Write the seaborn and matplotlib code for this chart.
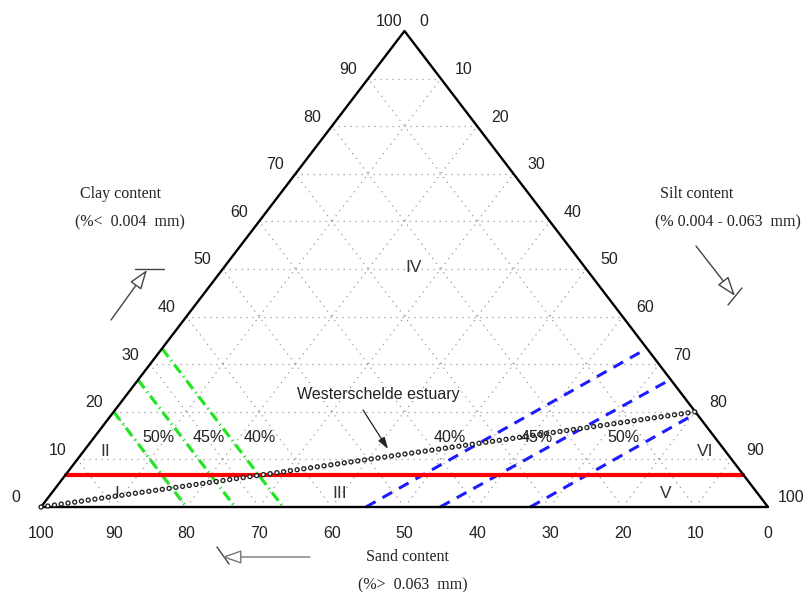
import numpy as np
import pandas as pd
import matplotlib
matplotlib.use("Agg")
import matplotlib.pyplot as plt
import seaborn as sns

# ---------------- data ----------------
tick_values = [0, 10, 20, 30, 40, 50, 60, 70, 80, 90, 100]
grid_levels = [10, 20, 30, 40, 50, 60, 70, 80, 90]
red_boundary_clay = 6.8                      # horizontal boundary (clay %)
green_sand_levels = [80.0, 73.3, 66.7]       # constant-sand lines
green_labels = ["50%", "45%", "40%"]
blue_sand_at_base = [55.3, 45.1, 32.7]       # sand % where blue line meets the base
blue_clay_at_right = [33.3, 26.8, 19.7]      # clay % where blue line meets the silt edge
blue_labels = ["40%", "45%", "50%"]
estuary_clay = [0.0, 20.0]                   # Westerschelde estuary line
estuary_silt = [0.0, 80.0]
zone_labels = ["I", "II", "III", "IV", "V", "VI"]

# ---------------- helpers ----------------
X0, XW, Y0, YH = 41.0, 727.0, 507.0, 476.0   # triangle placement in pixels


def tern(clay, silt):
    clay = np.asarray(clay, float)
    silt = np.asarray(silt, float)
    return silt + clay / 2.0, clay


def px(x, y):
    return (x - X0) / XW * 100.0, (Y0 - y) / YH * 100.0


sns.set_style("white")
plt.rcParams["font.family"] = ["Liberation Sans", "DejaVu Sans"]

fig = plt.figure(figsize=(8.08, 5.92), dpi=100)
ax = fig.add_axes([0, 0, 1, 1])
ax.set_xlim(-X0 / XW * 100, (808 - X0) / XW * 100)
ax.set_ylim((Y0 - 592) / YH * 100, Y0 / YH * 100)
ax.axis("off")

grid_kw = dict(color="#9a9a9a", lw=0.9, linestyle=(0, (1, 3.8)), zorder=1)
for v in grid_levels:
    # constant clay
    x, y = tern([v, v], [0, 100 - v])
    ax.plot(x, y, **grid_kw)
    # constant silt
    x, y = tern([0, 100 - v], [v, v])
    ax.plot(x, y, **grid_kw)
    # constant sand  (clay + silt = 100 - v)
    x, y = tern([0, 100 - v], [100 - v, 0])
    ax.plot(x, y, **grid_kw)

# triangle outline
tx, ty = tern([0, 0, 100, 0], [0, 100, 0, 0])
sns.lineplot(x=tx, y=ty, sort=False, estimator=None, color="black", lw=1.7, ax=ax, zorder=5)

# red boundary
rx, ry = tern([red_boundary_clay, red_boundary_clay], [0, 100 - red_boundary_clay])
sns.lineplot(x=rx, y=ry, sort=False, estimator=None, color="#ff0000", lw=3.0, ax=ax, zorder=4)

# green constant-sand lines
for s in green_sand_levels:
    gx, gy = tern([100 - s, 0], [0, 100 - s])
    ax.plot(gx, gy, color="#22e622", lw=2.3, linestyle=(0, (3.3, 1.3, 0.4, 1.3)), zorder=3)

# blue lines
for sb, cr in zip(blue_sand_at_base, blue_clay_at_right):
    bx, by = tern([0, cr], [100 - sb, 100 - cr])
    ax.plot(bx, by, color="#1c1cff", lw=2.2, linestyle=(0, (3.6, 2.6)), zorder=3)

# estuary line: open circles
ex, ey = tern(estuary_clay, estuary_silt)
spacing = 4.9
ax.plot(ex, ey, color="#222222", lw=3.9, linestyle=(0, (0.001, spacing / 3.9)),
        dash_capstyle="round", zorder=6)
ax.plot(ex, ey, color="white", lw=2.0, linestyle=(0, (0.001, spacing / 2.0)),
        dash_capstyle="round", zorder=7)

# tick labels
tcol = "#222222"
fs = 11.5
for v in tick_values:
    # clay (left side)
    x, y = tern(v, 0)
    dx, dy = -20, 9
    if v == 0:
        dx = -25
    if v == 100:
        dx, dy = -15, 10
    ax.annotate(str(v), (x, y), xytext=(dx * 0.72, dy * 0.72), textcoords="offset points",
                ha="center", va="center", fontsize=fs, color=tcol)
    # silt (right side)
    x, y = tern(100 - v, v)
    dx, dy = 23, 9
    if v == 0:
        dx, dy = 19.5, 10
    ax.annotate(str(v), (x, y), xytext=(dx * 0.72, dy * 0.72), textcoords="offset points",
                ha="center", va="center", fontsize=fs, color=tcol)
    # sand (base)
    x, y = tern(0, 100 - v)
    ax.annotate(str(v), (x, y), xytext=(0, -26 * 0.72), textcoords="offset points",
                ha="center", va="center", fontsize=fs, color=tcol)

# percentage labels
for lab, p in zip(green_labels, [(158, 437), (209, 437), (260, 437)]):
    ax.text(*px(*p), lab, ha="center", va="center", fontsize=fs, color=tcol, zorder=8)
for lab, p in zip(blue_labels, [(450, 437), (537, 437), (623, 437)]):
    ax.text(*px(*p), lab, ha="center", va="center", fontsize=fs, color=tcol, zorder=8)

# zone labels
zone_pos = [(117, 493), (105, 452), (340, 493), (414, 268), (666, 493), (705, 452)]
for lab, p in zip(zone_labels, zone_pos):
    ax.text(*px(*p), lab, ha="center", va="center", fontsize=12.5, color="#333333", zorder=8)

# axis titles (serif)
serif = ["Liberation Serif", "DejaVu Serif"]
titles = [("Clay content", (120, 194)), ("(%<  0.004  mm)", (130, 222)),
          ("Silt content", (697, 194)), ("(% 0.004 - 0.063  mm)", (728, 222)),
          ("Sand content", (407, 557)), ("(%>  0.063  mm)", (413, 585))]
for t, p in titles:
    ax.text(*px(*p), t, ha="center", va="center", fontsize=fs, color=tcol, family=serif)

# estuary annotation
ax.text(*px(378, 394), "Westerschelde estuary", ha="center", va="center", fontsize=fs,
        color=tcol, zorder=8)
ax.annotate("", xy=px(388, 449), xytext=px(363, 410),
            arrowprops=dict(arrowstyle="-|>,head_length=0.7,head_width=0.22",
                            color="#222222", lw=0.9, shrinkA=0, shrinkB=0))

# direction arrows
arrow_kw = dict(arrowstyle="-|>,head_length=1.2,head_width=0.42", fc="white",
                ec="#444444", lw=1.0, shrinkA=0, shrinkB=0)
ax.annotate("", xy=px(147, 270), xytext=px(111, 320), arrowprops=arrow_kw)
p1, p2 = px(135, 269), px(164, 269)
ax.plot([p1[0], p2[0]], [p1[1], p2[1]], color="#444444", lw=1.0)

ax.annotate("", xy=px(735, 296), xytext=px(696, 246), arrowprops=arrow_kw)
p1, p2 = px(728, 305), px(742, 288)
ax.plot([p1[0], p2[0]], [p1[1], p2[1]], color="#444444", lw=1.0)

sand_kw = dict(arrow_kw)
sand_kw["ec"] = "#777777"
ax.annotate("", xy=px(222, 557), xytext=px(310, 557), arrowprops=sand_kw)
p1, p2 = px(217, 547), px(229, 564)
ax.plot([p1[0], p2[0]], [p1[1], p2[1]], color="#444444", lw=1.0)

fig.savefig("out.png", dpi=100)
